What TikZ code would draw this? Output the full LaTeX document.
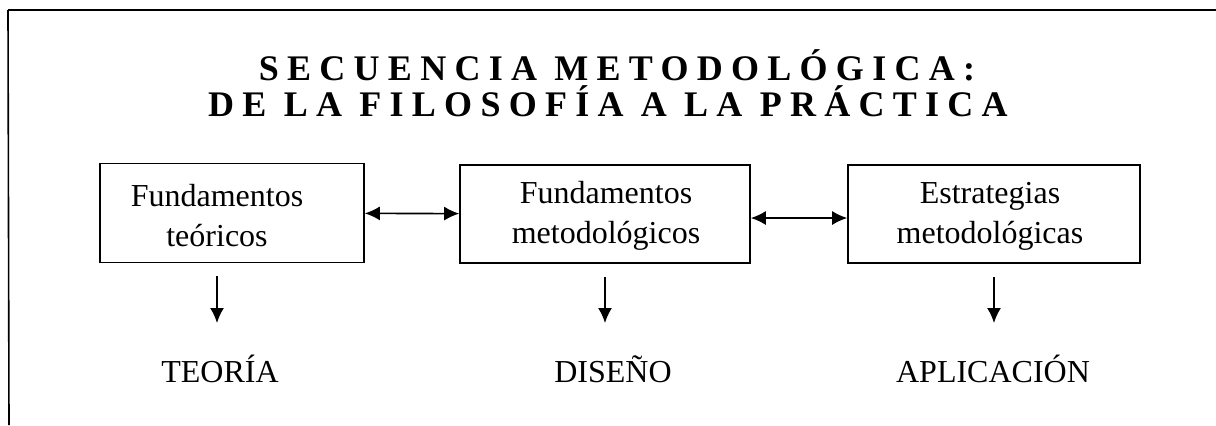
\documentclass[tikz,border=0pt]{standalone}
\usepackage{fontspec}
\setmainfont{Liberation Serif}
\usetikzlibrary{
	positioning
	,arrows.meta
}
\tikzset{
	>={Latex[length=7.5pt,width=7pt]}
	,every picture/.append style={line width=0.8pt, black}
}
\tikzset{box node/.style={
	draw,
	rectangle,
	align=center,
	inner sep=0mm,
}}
\tikzset{box text/.style={
	align=center,
	inner sep=0mm,
	font=\fontsize{16}{20}\selectfont,
}}
\tikzset{stage node/.style={
	anchor=base,
	inner sep=0mm,
	font=\fontsize{16}{20}\selectfont,
}}
\tikzset{title node/.style={
	anchor=base,
	inner sep=0mm,
	font=\fontsize{18}{18}\selectfont\bfseries\addfontfeatures{LetterSpace=23},
}}

\begin{document}
\begin{tikzpicture}[x=0.5pt, y=-0.5pt]
	\useasboundingbox (0,0) rectangle (1216,425);
	% frame
	\draw (8,10) coordinate (tl) -- (1216,10) coordinate (tr);
	\draw (tl) -- (9,425) coordinate (bl);

	\node[title node] (title1) at (617,80) {SECUENCIA METODOLÓGICA:};
	\node[title node] (title2) at (608,116) {DE LA FILOSOFÍA A LA PRÁCTICA};

	\node[box node, minimum width=132pt, minimum height=49.5pt](f1) at (232,213){};
	\node[box node, minimum width=145pt, minimum height=49pt](f2) at (605,214){};
	\node[box node, minimum width=146pt, minimum height=49pt](f3) at (994,214){};

	\node[box text](t1) at (217,216){Fundamentos\\teóricos};
	\node[box text](t2) at (606,216){Fundamentos\\metodológicos};
	\node[box text](t3) at (990,216){Estrategias\\metodológicas};

	\node[stage node](s1) at (220,382){TEORÍA};
	\node[stage node](s2) at (613,382){DISEÑO};
	\node[stage node](s3) at (993,382){APLICACIÓN};

	\draw[<->] (f1) -- (f2);
	\draw[<->] ([yshift=-2pt]f2.east) -- ([yshift=-2pt]f3.west);
	\foreach \x/\i in {217/1,605/2,994/3}{
		\draw[->] ([yshift=-6.5pt]f\i.south -| \x,0) -- ([yshift=29.5pt]s\i.base -| \x,0);
	}
\end{tikzpicture}
\end{document}
